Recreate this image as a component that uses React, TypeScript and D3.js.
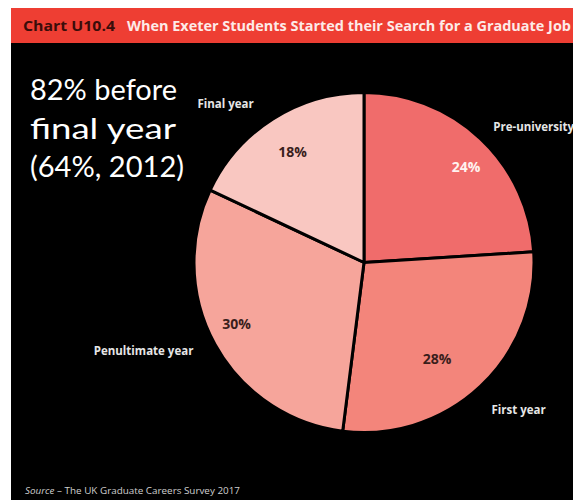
import React from "react";
import * as d3 from "d3";

const categories = ["Pre-university", "First year", "Penultimate year", "Final year"];
const values = [24, 28, 30, 18];
const colors = ["#F06C6B", "#F3857B", "#F6A59B", "#F9C7C1"];
const valueTextColors = ["#FFF3F0", "#3A1E1C", "#3A1E1C", "#3A1E1C"];
// label anchors relative to the pie centre (fraction of radius)
const nameOffsets: [number, number, string][] = [
  [0.76, -0.8, "start"],
  [0.75, 0.87, "start"],
  [-1.59, 0.52, "start"],
  [-0.98, -0.93, "start"],
];
const valueOffsets: [number, number][] = [
  [0.6, -0.56],
  [0.43, 0.57],
  [-0.75, 0.36],
  [-0.42, -0.65],
];
const noteLines = ["82% before", "final year", "(64%, 2012)"];
const titleCode = "Chart U10.4";
const titleText = "When Exeter Students Started their Search for a Graduate Job";
const sourceText = ["Source", " – The UK Graduate Careers Survey 2017"];

export default function App() {
  const W = 573, H = 500;
  const cx = 364, cy = 262.5, r = 170;
  const pie = d3.pie<number>().sort(null).startAngle(0).endAngle(2 * Math.PI);
  const arcs = pie(values);
  const arc = d3.arc<d3.PieArcDatum<number>>().innerRadius(0).outerRadius(r);
  const font = "'Open Sans', 'Noto Sans', sans-serif";

  return (
    <div style={{ position: "fixed", left: 0, top: 0 }}>
      <svg width={W} height={H} style={{ display: "block" }}>
        <rect x={0} y={0} width={W} height={H} fill="#ffffff" />
        <rect x={11} y={43} width={W - 11} height={H - 43} fill="#000000" />
        <rect x={11} y={8} width={W - 11} height={35} fill="#EE3E33" />
        <text x={23} y={30.5} fontFamily={font} fontWeight={700} fontSize={13.5} fill="#3A0D0A"
          textLength={92} lengthAdjust="spacingAndGlyphs">{titleCode}</text>
        <text x={127} y={30.5} fontFamily={font} fontWeight={700} fontSize={13.5} fill="#FDEBE8"
          textLength={444} lengthAdjust="spacingAndGlyphs">{titleText}</text>

        {noteLines.map((t, i) => (
          <text key={t} x={30} y={100 + i * 38.5} fontFamily="Lato, 'Open Sans', sans-serif"
            fontSize={28} fill="#ffffff" textLength={[147, 146, 154][i]} lengthAdjust="spacingAndGlyphs">{t}</text>
        ))}

        <g transform={`translate(${cx},${cy})`}>
          {arcs.map((a, i) => (
            <path key={categories[i]} d={arc(a) || ""} fill={colors[i]} stroke="#000" strokeWidth={3} strokeLinejoin="round" />
          ))}
          {arcs.map((a, i) => (
            <text key={"v" + i} x={valueOffsets[i][0] * r} y={valueOffsets[i][1] * r} dy="0.35em"
              textAnchor="middle" fontFamily={font} fontWeight={700} fontSize={14} fill={valueTextColors[i]}>
              {values[i]}%
            </text>
          ))}
          {arcs.map((a, i) => (
            <text key={"n" + i} x={nameOffsets[i][0] * r} y={nameOffsets[i][1] * r} dy="0.35em"
              textAnchor={nameOffsets[i][2]} fontFamily={font} fontWeight={700} fontSize={11.5} fill="#E6E6E6">
              {categories[i]}
            </text>
          ))}
        </g>

        <text x={25} y={494} fontFamily={font} fontSize={9.5} fill="#CFCFCF" textLength={215} lengthAdjust="spacingAndGlyphs">
          <tspan fontStyle="italic">{sourceText[0]}</tspan>
          <tspan>{sourceText[1]}</tspan>
        </text>
      </svg>
    </div>
  );
}
